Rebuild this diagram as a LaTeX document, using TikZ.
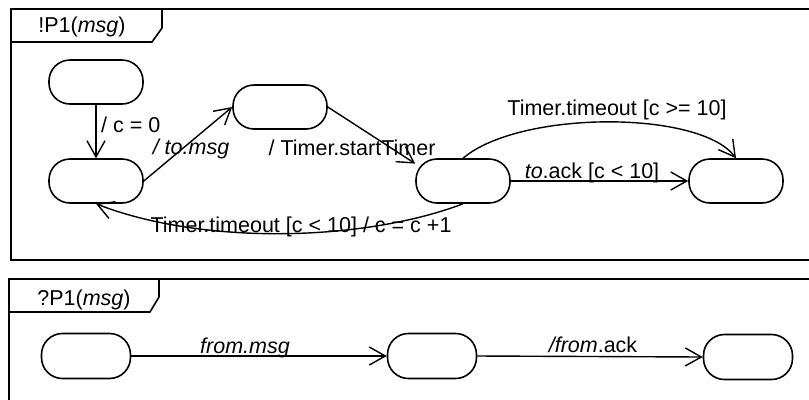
\documentclass[tikz,border=0pt]{standalone}
\usepackage{fontspec}
\setmainfont{Liberation Sans}
\usetikzlibrary{arrows.meta}
\tikzset{
  state/.style={draw, line width=1.6bp, rounded corners=21bp, minimum width=94bp, minimum height=44bp, inner sep=0pt},
  bstate/.style={state, minimum width=89bp, minimum height=45bp},
  conn/.style={line width=1.4bp, -{Straight Barb[length=16bp,width=18bp,line width=1.4bp]}},
  lbl/.style={anchor=base, inner sep=0pt, font=\fontsize{21.5bp}{26bp}\selectfont},
  frame/.style={line width=1.6bp},
}
\begin{document}
\begin{tikzpicture}[x=1bp,y=-1bp]
\useasboundingbox (0,0) rectangle (809,399);
\clip (0,0) rectangle (809,399);
% frames
\draw[frame] (11,9) rectangle (815,260);
\draw[frame] (11,42) -- (152,42) -- (162,28) -- (162,9);
\node[lbl] (t1) at (82,32.5) {!P1(\textit{msg})};
\draw[frame] (9,279) rectangle (815,420);
\draw[frame] (9,312) -- (150,312) -- (159,297) -- (159,279);
\node[lbl] (t2) at (84,305.5) {?P1(\textit{msg})};
% top states
\node[state] (A) at (96,82) {};
\node[state] (B) at (96,181) {};
\node[state] (C) at (280,107) {};
\node[state] (D) at (463,181) {};
\node[state] (E) at (736,181) {};
% bottom states
\node[bstate] (F) at (86,356) {};
\node[bstate] (G) at (432,356) {};
\node[bstate] (H) at (748,357) {};
% connectors top
\draw[conn] (A) -- (B);
\draw[conn] (B.east) -- (C.west);
\draw[conn] (C.east) -- (D.160);
\draw[conn] (D.east) -- (E.west);
\draw[conn] (D.north) .. controls (520,110) and (700,110) .. (E.north);
\draw[conn] (D.south) .. controls (365,241) and (205,246) .. (B.south);
% connectors bottom
\draw[conn] (F.east) -- (G.west);
\draw[conn] (G.east) -- (H.west);
% labels
\node[lbl, anchor=base west] (l1) at (101,132) {/ c = 0};
\node[lbl] (l2) at (191,154) {\itshape / to.msg};
\node[lbl] (l3) at (352,155) {/ Timer.startTimer};
\node[lbl] (l4) at (617,115.5) {Timer.timeout [c >= 10]};
\node[lbl] (l5) at (592,178.5) {\textit{to}.ack [c < 10]};
\node[lbl] (l6) at (301,232.5) {Timer.timeout [c < 10] / c = c +1};
\node[lbl] (l7) at (245,353.5) {\itshape from.msg};
\node[lbl] (l8) at (593,352.5) {\textit{/from}.ack};
\end{tikzpicture}
\end{document}
